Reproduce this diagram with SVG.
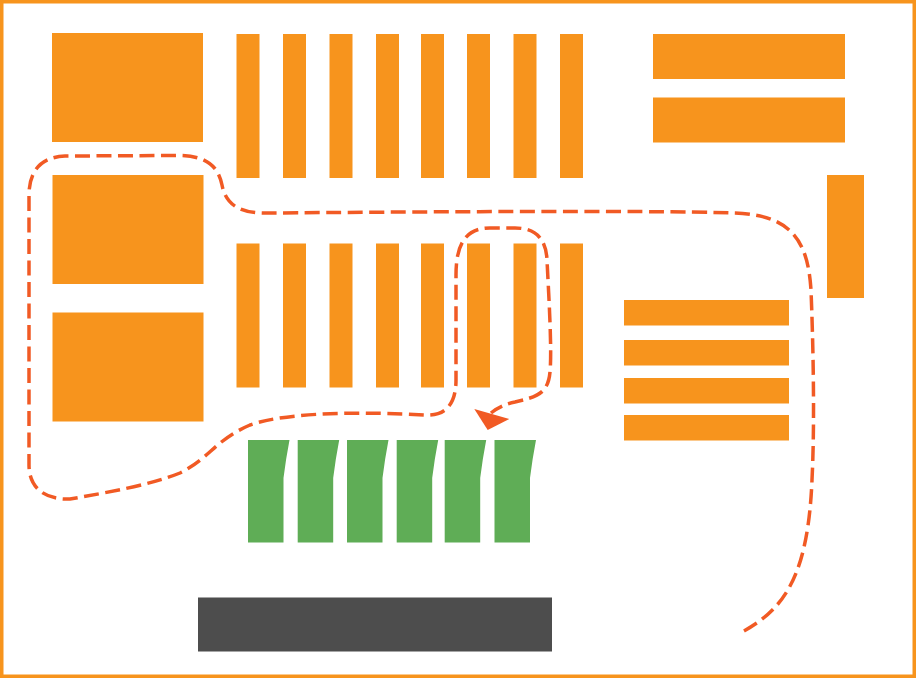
<svg xmlns="http://www.w3.org/2000/svg" width="916" height="678" viewBox="0 0 916 678">
<style>
.o{fill:#f7941d}
.g{fill:#5fad56}
.d{fill:#4d4d4d}
.r{fill:none;stroke:#f15a24;stroke-width:3.500;stroke-dasharray:15 6.500}
</style>
<defs>
<rect id="bar" class="o" width="23" height="144"/>
<path id="dock" class="g" d="M0 0H41.500Q38 18 35.500 38V102.500H0Z"/>
</defs>
<rect width="916" height="678" fill="#fff"/>
<rect id="border" x="1.500" y="1.500" width="913" height="675" fill="none" stroke="#f7941d" stroke-width="4"/>
<g id="block-1"><rect class="o" x="52" y="33" width="151" height="109"/></g>
<g id="block-2"><rect class="o" x="52.500" y="175" width="151" height="109"/></g>
<g id="block-3"><rect class="o" x="52.500" y="312.500" width="151" height="109"/></g>
<g id="racks-top">
<use href="#bar" x="236.500" y="34"/><use href="#bar" x="283" y="34"/><use href="#bar" x="329.500" y="34"/><use href="#bar" x="376" y="34"/><use href="#bar" x="421" y="34"/><use href="#bar" x="467" y="34"/><use href="#bar" x="513.500" y="34"/><use href="#bar" x="560" y="34"/>
</g>
<g id="racks-bottom">
<use href="#bar" x="236.500" y="243.500"/><use href="#bar" x="283" y="243.500"/><use href="#bar" x="329.500" y="243.500"/><use href="#bar" x="376" y="243.500"/><use href="#bar" x="421" y="243.500"/><use href="#bar" x="467" y="243.500"/><use href="#bar" x="513.500" y="243.500"/><use href="#bar" x="560" y="243.500"/>
</g>
<g id="shelf-top">
<rect class="o" x="653" y="34" width="192" height="45"/>
<rect class="o" x="653" y="97.500" width="192" height="45"/>
</g>
<g id="side-block"><rect class="o" x="827" y="175" width="37" height="123"/></g>
<g id="shelf-right">
<rect class="o" x="624" y="300" width="165" height="25.500"/>
<rect class="o" x="624" y="340" width="165" height="25.500"/>
<rect class="o" x="624" y="378" width="165" height="25.500"/>
<rect class="o" x="624" y="415" width="165" height="25.500"/>
</g>
<g id="docks">
<use href="#dock" x="248" y="440"/><use href="#dock" x="297.700" y="440"/><use href="#dock" x="347" y="440"/><use href="#dock" x="396.700" y="440"/><use href="#dock" x="444.700" y="440"/><use href="#dock" x="494.500" y="440"/>
</g>
<g id="base"><rect class="d" x="198" y="597.500" width="354" height="54"/></g>
<g id="connectors">
<path class="r" d="M744 631C785 608 808 575 812 480C815 420 813 340 811 290C808 245 795 215 735 213C640 210 400 212 270 213C240 214 226 205 222 185C218 165 205 156 180 155.500L65 156C42 157 29 170 29 195V465C29 488 45 500 70 499C110 492 150 485 180 473C210 458 215 440 250 425C290 411 370 412 425 415C445 416 456 405 456 380V275C456 245 465 228 490 228H515C535 228 546 238 547 260C549 300 552 350 550 372C548 395 535 397 515 402C505 404 497 408 491 413"/>
<polygon fill="#f15a24" points="474.300,409 509.300,419 487.700,430"/>
</g>
</svg>
